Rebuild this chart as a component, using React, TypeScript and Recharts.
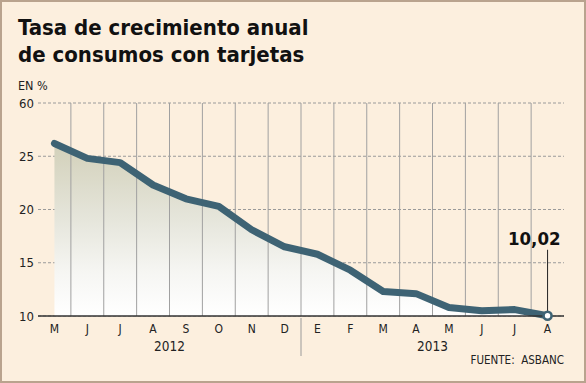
import React from "react";
import {
  ComposedChart,
  Area,
  Line,
  XAxis,
  YAxis,
  CartesianGrid,
  ReferenceLine,
} from "recharts";

const months = ["M", "J", "J", "A", "S", "O", "N", "D", "E", "F", "M", "A", "M", "J", "J", "A"];
const values = [26.2, 24.8, 24.4, 22.3, 21.0, 20.3, 18.1, 16.5, 15.8, 14.3, 12.3, 12.1, 10.8, 10.5, 10.6, 10.02];
const yTicks = [10, 15, 20, 25, 30];
const yTickLabels = ["10", "15", "20", "25", "60"];
const years = ["2012", "2013"];
const yearCenters = [3.5, 11.5];
const yearDivider = 7.5;
const highlightLabel = "10,02";
const titleLines = ["Tasa de crecimiento anual", "de consumos con tarjetas"];
const unitLabel = "EN %";
const sourceLabel = "FUENTE:\u00a0 ASBANC";

const data = months.map((m, i) => ({ i, m, v: values[i] }));
const gridXs = months.slice(1).map((_, k) => k + 0.5);
const lastIndex = values.length - 1;

const FONT = "'DejaVu Sans Condensed', 'DejaVu Sans', sans-serif";
const LINE_COLOR = "#3E6374";
const BG = "#FCEFDE";

const YearTick = (props: any) => {
  const { x, y, payload } = props;
  const v = payload.value;
  if (v === yearDivider) {
    return (
      <line x1={x} x2={x} y1={y - 23} y2={y + 15} stroke="#9a9a9a" strokeWidth={1} />
    );
  }
  const idx = yearCenters.indexOf(v);
  return (
    <text x={x} y={y} dy="0.71em" textAnchor="middle" fontSize={13.5} fill="#222" fontFamily={FONT}>
      {years[idx]}
    </text>
  );
};

const renderDot = (props: any) => {
  const { cx, cy, index } = props;
  if (index !== lastIndex) return <g key={`d${index}`} />;
  return (
    <g key={`d${index}`}>
      <line x1={cx} x2={cx} y1={cy - 66} y2={cy} stroke="#222" strokeWidth={1} />
      <circle cx={cx} cy={cy} r={4} fill="#fff" stroke={LINE_COLOR} strokeWidth={2.6} />
      <text
        x={cx + 13}
        y={cy - 71}
        textAnchor="end"
        fontSize={18.5}
        fontWeight="bold"
        fill="#111"
        fontFamily={FONT}
      >
        {highlightLabel}
      </text>
    </g>
  );
};

export default function App() {
  return (
    <div
      style={{
        position: "absolute",
        left: 0,
        top: 0,
        width: 586,
        height: 383,
        background: BG,
        fontFamily: FONT,
      }}
    >
      <div style={{ position: "absolute", left: 0, top: 0 }}>
        <ComposedChart
          width={586}
          height={383}
          data={data}
          margin={{ top: 103, right: 22, left: 0, bottom: 19 }}
        >
          <defs>
            <linearGradient id="areaGrad" x1="0" y1="0" x2="0" y2="1">
              <stop offset="0%" stopColor="#D2D0B9" />
              <stop offset="45%" stopColor="#E6E6DC" />
              <stop offset="75%" stopColor="#F6F6F3" />
              <stop offset="100%" stopColor="#FFFFFF" />
            </linearGradient>
          </defs>
          <XAxis
            dataKey="i"
            type="number"
            domain={[-0.5, 15.5]}
            ticks={data.map((d) => d.i)}
            interval={0}
            tickFormatter={(v: number) => months[v]}
            axisLine={{ stroke: "#333", strokeWidth: 1.5 }}
            tickLine={false}
            tickSize={0}
            tickMargin={8}
            height={18}
            tick={{ fontSize: 12, fill: "#222", fontFamily: FONT }}
          />
          <XAxis
            xAxisId="yr"
            dataKey="i"
            type="number"
            domain={[-0.5, 15.5]}
            ticks={[...yearCenters, yearDivider]}
            interval={0}
            axisLine={false}
            tickLine={false}
            tickSize={0}
            tickMargin={7}
            height={30}
            tick={<YearTick />}
          />
          <YAxis
            type="number"
            domain={[10, 30]}
            ticks={yTicks}
            interval={0}
            tickFormatter={(v: number) => yTickLabels[yTicks.indexOf(v)]}
            axisLine={false}
            tickLine={false}
            tickSize={0}
            tickMargin={4}
            width={38}
            tick={{ fontSize: 13, fill: "#222", fontFamily: FONT }}
          />
          <Area
            dataKey="v"
            type="linear"
            stroke="none"
            fill="url(#areaGrad)"
            fillOpacity={1}
            isAnimationActive={false}
            activeDot={false}
          />
          <CartesianGrid vertical={false} stroke="#9a9a9a" strokeDasharray="3 2" />
          {gridXs.map((gx) => (
            <ReferenceLine key={gx} x={gx} stroke="#a0a0a0" strokeWidth={1} />
          ))}
          <Line
            dataKey="v"
            type="linear"
            stroke={LINE_COLOR}
            strokeWidth={7}
            strokeLinejoin="round"
            strokeLinecap="round"
            dot={renderDot}
            activeDot={false}
            isAnimationActive={false}
          />
        </ComposedChart>
      </div>
      <svg
        width={586}
        height={383}
        style={{ position: "absolute", left: 0, top: 0, pointerEvents: "none" }}
      >
        <text x={18} y={34.5} fontSize={22} fontWeight="bold" fill="#111" fontFamily={FONT}>
          {titleLines[0]}
        </text>
        <text x={18} y={61.7} fontSize={22} fontWeight="bold" fill="#111" fontFamily={FONT}>
          {titleLines[1]}
        </text>
        <text x={18} y={90} fontSize={12.5} fill="#222" fontFamily={FONT}>
          {unitLabel}
        </text>
        <text x={564} y={364} textAnchor="end" fontSize={11.5} fill="#222" fontFamily={FONT}>
          {sourceLabel}
        </text>
      </svg>
      <div
        style={{
          position: "absolute",
          left: 0,
          top: 0,
          width: 586,
          height: 383,
          boxSizing: "border-box",
          border: "2px solid #B9A38E",
          pointerEvents: "none",
        }}
      />
    </div>
  );
}
